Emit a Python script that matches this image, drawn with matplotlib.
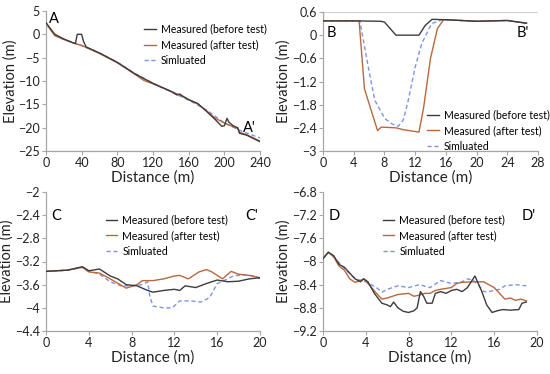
import matplotlib
matplotlib.use("Agg")
import matplotlib.pyplot as plt
import numpy as np

plt.rcParams['font.family'] = ['Lato', 'DejaVu Sans']

C_BEFORE = '#3c3c3c'
C_AFTER = '#b8683c'
C_SIM = '#7f93e6'

# Panel A
a_x_before = [0, 5, 10, 20, 30, 33, 35, 40, 42, 45, 60, 80, 100, 120, 140, 147, 150, 153, 160, 170, 180, 190, 197, 200, 203, 205, 210, 215, 217, 225, 240]
a_y_before = [2.5, 1.2, 0, -1.0, -1.8, -2.0, 0, 0, -1.5, -2.7, -4.0, -6.0, -8.5, -10.5, -12.2, -13.0, -12.8, -13.2, -14.0, -14.8, -16.5, -18.3, -19.7, -19.6, -18.0, -18.8, -19.6, -20.0, -21.2, -21.6, -23.0]
a_x_after = [0, 5, 10, 20, 30, 40, 45, 60, 80, 100, 110, 120, 140, 150, 160, 170, 180, 190, 200, 210, 215, 217, 225, 240]
a_y_after = [2.4, 1.0, -0.3, -1.1, -1.8, -2.4, -2.8, -4.1, -6.1, -8.6, -9.9, -10.6, -12.2, -13.0, -14.0, -14.9, -16.4, -18.0, -19.0, -19.8, -20.2, -21.0, -21.5, -22.9]
a_x_sim = [0, 10, 20, 40, 60, 80, 100, 120, 140, 160, 180, 200, 220, 240]
a_y_sim = [2.4, -0.2, -1.1, -2.4, -4.0, -6.0, -8.4, -10.5, -12.3, -14.1, -16.2, -19.0, -20.8, -22.2]

# Panel B
b_x_before = [0, 4, 7.5, 8, 9.5, 12.5, 13.3, 14.2, 16, 20, 24, 26.5]
b_y_before = [0.37, 0.37, 0.36, 0.34, 0.0, 0.0, 0.25, 0.41, 0.40, 0.36, 0.38, 0.31]
b_x_after = [0, 4.7, 5.4, 7.1, 7.6, 9.5, 10.5, 12.5, 13.1, 14.0, 14.9, 15.7, 16, 20, 24, 26.5]
b_y_after = [0.37, 0.37, -1.39, -2.47, -2.38, -2.40, -2.45, -2.51, -1.88, -0.6, 0.17, 0.40, 0.40, 0.36, 0.38, 0.31]
b_x_sim = [0, 4.8, 5.9, 6.75, 8.05, 9.0, 9.8, 10.45, 11.1, 12.0, 12.85, 14.15, 15.5, 16, 20, 24, 26.5]
b_y_sim = [0.37, 0.37, -0.83, -1.69, -2.16, -2.3, -2.36, -2.2, -1.69, -0.83, -0.22, 0.30, 0.40, 0.40, 0.36, 0.38, 0.31]

# Panel C
c_x_before = [0, 2, 3.4, 4, 5, 6, 6.7, 7.5, 8.5, 9.5, 10, 11, 12, 12.5, 13, 14, 15, 16, 17, 18, 19, 20]
c_y_before = [-3.37, -3.35, -3.29, -3.36, -3.33, -3.45, -3.5, -3.6, -3.62, -3.7, -3.73, -3.7, -3.68, -3.7, -3.62, -3.65, -3.58, -3.52, -3.55, -3.54, -3.5, -3.48]
c_x_after = [0, 2, 3.4, 4, 5, 6, 7.5, 8.5, 9, 10, 11, 12, 12.5, 13.3, 14.3, 15, 15.5, 16.5, 17.3, 18, 19, 20]
c_y_after = [-3.37, -3.35, -3.3, -3.38, -3.4, -3.5, -3.66, -3.6, -3.53, -3.53, -3.5, -3.45, -3.44, -3.5, -3.38, -3.34, -3.38, -3.5, -3.37, -3.42, -3.44, -3.48]
c_x_sim = [0, 2, 3.4, 4, 5, 6, 7, 8, 9, 9.5, 9.7, 10, 11, 11.8, 12.5, 13.5, 14.5, 15.3, 16, 17, 17.5, 18.5, 19.5, 20]
c_y_sim = [-3.37, -3.35, -3.3, -3.36, -3.42, -3.55, -3.62, -3.62, -3.6, -3.55, -3.8, -3.97, -4.0, -4.0, -3.88, -3.88, -3.9, -3.82, -3.58, -3.5, -3.45, -3.43, -3.45, -3.5]

# Panel D
d_x_before = [0, 0.5, 1, 1.5, 2, 2.5, 3, 3.5, 3.8, 4.2, 4.8, 5.5, 6, 6.3, 6.6, 7, 7.5, 8, 8.5, 8.8, 9.1, 9.4, 9.7, 10.2, 10.5, 11, 11.5, 12, 12.5, 13, 13.5, 14.2, 14.8, 15.3, 15.8, 16.3, 16.8, 17.5, 18.3, 18.6, 19]
d_y_before = [-7.95, -7.84, -7.9, -8.05, -8.1, -8.2, -8.3, -8.35, -8.3, -8.35, -8.55, -8.72, -8.75, -8.78, -8.7, -8.8, -8.86, -8.88, -8.85, -8.8, -8.52, -8.6, -8.72, -8.72, -8.55, -8.52, -8.55, -8.5, -8.48, -8.52, -8.45, -8.25, -8.5, -8.75, -8.88, -8.85, -8.83, -8.84, -8.83, -8.72, -8.7]
d_x_after = [0, 0.5, 1, 1.5, 2, 2.5, 3, 3.5, 3.8, 4.3, 5, 5.5, 6, 7, 8, 8.5, 9, 9.5, 10, 10.5, 11, 12, 12.5, 13, 14, 15, 15.5, 16, 16.5, 17, 17.5, 18, 18.5, 19]
d_y_after = [-7.95, -7.84, -7.92, -8.08, -8.15, -8.3, -8.36, -8.33, -8.3, -8.4, -8.55, -8.65, -8.63, -8.57, -8.55, -8.6, -8.58, -8.55, -8.55, -8.5, -8.48, -8.45, -8.38, -8.36, -8.35, -8.35, -8.4, -8.45, -8.55, -8.65, -8.63, -8.67, -8.65, -8.68]
d_x_sim = [0, 0.5, 1, 2, 3, 4, 5, 5.5, 6, 7, 8, 9, 10, 11, 12, 13, 13.5, 14, 14.5, 15, 15.5, 16.5, 17, 18, 19]
d_y_sim = [-7.95, -7.84, -7.92, -8.12, -8.3, -8.35, -8.45, -8.53, -8.48, -8.42, -8.45, -8.4, -8.45, -8.33, -8.38, -8.35, -8.3, -8.32, -8.4, -8.52, -8.52, -8.48, -8.42, -8.4, -8.42]

LABELS = ['Measured (before test)', 'Measured (after test)', 'Simluated']

fig = plt.figure(figsize=(5.5, 3.74), dpi=100)

def px_axes(l, t, r, b):
    return fig.add_axes([l / 550, 1 - b / 374, (r - l) / 550, (b - t) / 374])

def style(ax, xlim, xticks, ylim, yticks, yticklabels):
    ax.set_xlim(*xlim)
    ax.set_ylim(*ylim)
    ax.set_xticks(xticks)
    ax.set_yticks(yticks)
    ax.set_yticklabels(yticklabels)
    for s in ['top', 'right']:
        ax.spines[s].set_visible(False)
    for s in ['left', 'bottom']:
        ax.spines[s].set_color('#a6a6a6')
        ax.spines[s].set_linewidth(0.9)
    ax.tick_params(direction='out', length=3, width=0.8, color='#a6a6a6', labelsize=9, pad=1.5, labelcolor='#222222')
    ax.set_xlabel('Distance (m)', fontsize=11, labelpad=1, color='#222222')
    ax.set_ylabel('Elevation (m)', fontsize=10.5, labelpad=0.5, color='#222222')

def draw(ax, xb, yb, xa, ya, xs, ys):
    ax.plot(xb, yb, color=C_BEFORE, lw=1.0, label=LABELS[0], zorder=3)
    ax.plot(xa, ya, color=C_AFTER, lw=1.0, label=LABELS[1], zorder=2)
    ax.plot(xs, ys, color=C_SIM, lw=1.0, ls=(0, (3, 2)), label=LABELS[2], zorder=1)

def legend(ax, loc, anchor):
    ax.legend(loc=loc, bbox_to_anchor=anchor, frameon=False, fontsize=7.6,
              handlelength=1.1, handletextpad=0.45, labelspacing=0.45, borderaxespad=0)

axA = px_axes(46, 11, 260, 151)
draw(axA, a_x_before, a_y_before, a_x_after, a_y_after, a_x_sim, a_y_sim)
style(axA, (0, 240), np.arange(0, 241, 40), (-25, 5), np.arange(-25, 6, 5),
      ['−25', '−20', '−15', '−10', '−5', '0', '5'])
axA.text(3, 3.3, 'A', fontsize=10.5, ha='left', va='center')
axA.text(221, -20, "A'", fontsize=10.5, ha='left', va='center')
legend(axA, 'upper left', (0.44, 0.94))

axB = px_axes(323, 12, 538, 151)
draw(axB, b_x_before, b_y_before, b_x_after, b_y_after, b_x_sim, b_y_sim)
style(axB, (0, 28), np.arange(0, 29, 4), (-3, 0.6), np.arange(-3, 0.61, 0.6),
      ['−3', '−2.4', '−1.8', '−1.2', '−0.6', '0', '0.6'])
axB.axhline(0.6, color='#d0d0d0', lw=0.8, zorder=0)
axB.text(0.5, 0.05, 'B', fontsize=10.5, ha='left', va='center')
axB.text(25.2, 0.05, "B'", fontsize=10.5, ha='left', va='center')
legend(axB, 'upper left', (0.465, 0.33))

axC = px_axes(46, 192, 260, 331)
draw(axC, c_x_before, c_y_before, c_x_after, c_y_after, c_x_sim, c_y_sim)
style(axC, (0, 20), np.arange(0, 21, 4), (-4.4, -2), np.arange(-4.4, -1.99, 0.4),
      ['−4.4', '−4', '−3.6', '−3.2', '−2.8', '−2.4', '−2'])
axC.text(0.5, -2.42, 'C', fontsize=10.5, ha='left', va='center')
axC.text(18.6, -2.42, "C'", fontsize=10.5, ha='left', va='center')
legend(axC, 'upper left', (0.26, 0.87))

axD = px_axes(323, 192, 537, 331)
draw(axD, d_x_before, d_y_before, d_x_after, d_y_after, d_x_sim, d_y_sim)
style(axD, (0, 20), np.arange(0, 21, 4), (-9.2, -6.8), np.arange(-9.2, -6.79, 0.4),
      ['−9.2', '−8.8', '−8.4', '−8', '−7.6', '−7.2', '−6.8'])
axD.text(0.5, -7.22, 'D', fontsize=10.5, ha='left', va='center')
axD.text(18.6, -7.22, "D'", fontsize=10.5, ha='left', va='center')
legend(axD, 'upper left', (0.26, 0.87))

fig.savefig('out.png', dpi=100)
